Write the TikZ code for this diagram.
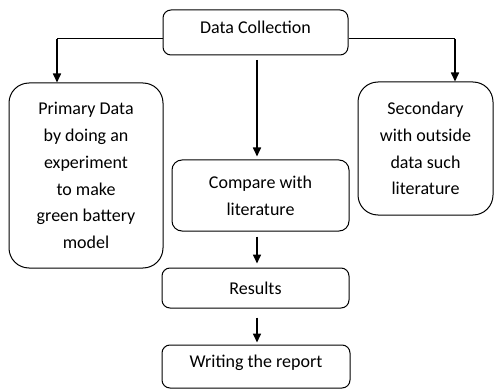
\documentclass[tikz,border=0pt]{standalone}
\usepackage{fontspec}
\setmainfont{Carlito}
\usetikzlibrary{arrows.meta}
\begin{document}
\begin{tikzpicture}[x=1pt,y=-1pt,
  box/.style={draw,line width=1pt,rounded corners=#1,align=center,inner sep=0pt,
    font=\fontsize{18}{26.8}\selectfont},
  box/.default=8pt,
  thin line/.style={line width=1pt},
  arr/.style={line width=1.6pt,-{Triangle[width=8pt,length=9pt]}}]
\useasboundingbox (0,0) rectangle (495,390);
\node[box,minimum width=185pt,minimum height=45pt] (dc) at (255.5,32.5) {};
\node[font=\fontsize{18}{26.8}\selectfont] (dct) at (255.5,27) {Data Collection};
\node[box=20pt,minimum width=154pt,minimum height=185pt] (p) at (86,175.5)
  {Primary Data\\by doing an\\experiment\\to make\\green battery\\model};
\node[box=20pt,minimum width=135pt,minimum height=133pt] (s) at (425.5,148.5)
  {Secondary\\with outside\\data such\\literature};
\node[box=10pt,minimum width=177pt,minimum height=71pt] (c) at (260.5,195.5)
  {Compare with\\literature};
\node[box,minimum width=187pt,minimum height=40pt] (r) at (255.5,288) {Results};
\node[box,minimum width=188pt,minimum height=43pt] (w) at (256,366.5) {};
\node[font=\fontsize{18}{26.8}\selectfont] (wt) at (256,363) {Writing the report};
\coordinate (lt) at (57,39);
\coordinate (rt) at (455,39);
\coordinate (ct) at (257,60);
\draw[thin line] (lt -| dc.west) -- (lt);
\draw[thin line] (rt -| dc.east) -- (rt);
\draw[arr] (lt) -- (lt |- p.north);
\draw[arr] (rt) -- (rt |- s.north);
\draw[arr,shorten >=3pt] (ct) -- (ct |- c.north);
\draw[arr,shorten <=5pt,shorten >=4pt] (ct |- c.south) -- (ct |- r.north);
\draw[arr,shorten <=9pt,shorten >=2pt] (ct |- r.south) -- (ct |- w.north);
\end{tikzpicture}
\end{document}
